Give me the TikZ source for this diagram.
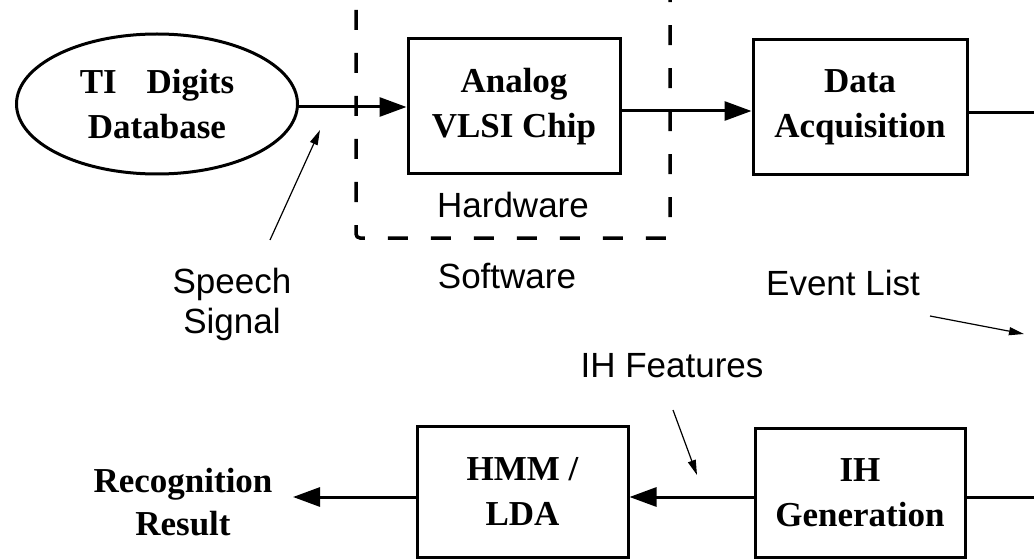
\documentclass[tikz,border=0pt]{standalone}
\usepackage{fontspec}
\setmainfont{Liberation Serif}
\setsansfont{Liberation Sans}
\usetikzlibrary{arrows.meta,shapes.geometric}
\begin{document}
\begin{tikzpicture}[x=1pt,y=-1pt,
  boxtext/.style={font=\bfseries\fontsize{35}{45}\selectfont, align=center},
  block/.style={draw, line width=3pt, rectangle, inner sep=0pt, boxtext},
  lbl/.style={font=\sffamily\fontsize{35}{40}\selectfont, align=center, inner sep=0pt, anchor=base},
  flow/.style={line width=3pt, -{Triangle[length=27pt,width=19pt]}},
  plain/.style={line width=3pt},
  pointer/.style={line width=1.2pt, -{Triangle[length=15pt,width=8pt]}},
  dashbox/.style={line width=3.5pt, dash pattern=on 20pt off 23pt, dash phase=33pt, rounded corners=4pt}]
\useasboundingbox (0,0) rectangle (1034,559);

% nodes
\node[ellipse, draw, line width=3pt, minimum width=281pt, minimum height=140pt, inner sep=0pt, boxtext] (db) at (157,104) {TI\hspace{30pt}Digits\\Database};
\node[block, minimum width=212pt, minimum height=135pt] (chip) at (514,106.5) {Analog\\VLSI Chip};
\node[block, minimum width=214pt, minimum height=135pt] (daq) at (860,107.5) {Data\\Acquisition};
\node[block, minimum width=211pt, minimum height=131pt] (hmm) at (522.5,491.5) {HMM /\\LDA};
\node[block, minimum width=210pt, minimum height=129pt] (ihg) at (860,492.5) {IH\\Generation};

% labels
\node[lbl] (hw) at (513,217) {Hardware};
\node[lbl] (sw) at (507,288) {Software};
\node[lbl] (ss) at (232,333) {Speech\\Signal};
\node[lbl] (ev) at (843,295) {Event List};
\node[lbl] (ihf) at (672,377) {IH Features};
\node[font=\bfseries\fontsize{35}{43}\selectfont, align=center, inner sep=0pt, anchor=base] (rr) at (183,535) {Recognition\\Result};

% dashed hardware box
\draw[dashbox] (356,0) -- (356,238) -- (670,238) -- (670,0);

% coordinates
\coordinate (rightA) at (1034,113);
\coordinate (rightB) at (1034,497);
\coordinate (rrtip) at (293,497);
\coordinate (ss1) at (270,240);
\coordinate (ss2) at (320,130);
\coordinate (ev1) at (930,316);
\coordinate (ev2) at (1024,334);
\coordinate (ih1) at (673,410);
\coordinate (ih2) at (697,475);

% connectors
\draw[flow] (db.east |- 0,107) -- (chip.west |- 0,107);
\draw[flow] (chip.east |- 0,111) -- (daq.west |- 0,111);
\draw[plain] (daq.east |- rightA) -- (rightA);
\draw[plain] (ihg.east |- rightB) -- (rightB);
\draw[flow] (ihg.west |- rightB) -- (hmm.east |- rightB);
\draw[flow] (hmm.west |- rightB) -- (rrtip);

% pointers
\draw[pointer] (ss1) -- (ss2);
\draw[pointer] (ev1) -- (ev2);
\draw[pointer] (ih1) -- (ih2);
\end{tikzpicture}
\end{document}
